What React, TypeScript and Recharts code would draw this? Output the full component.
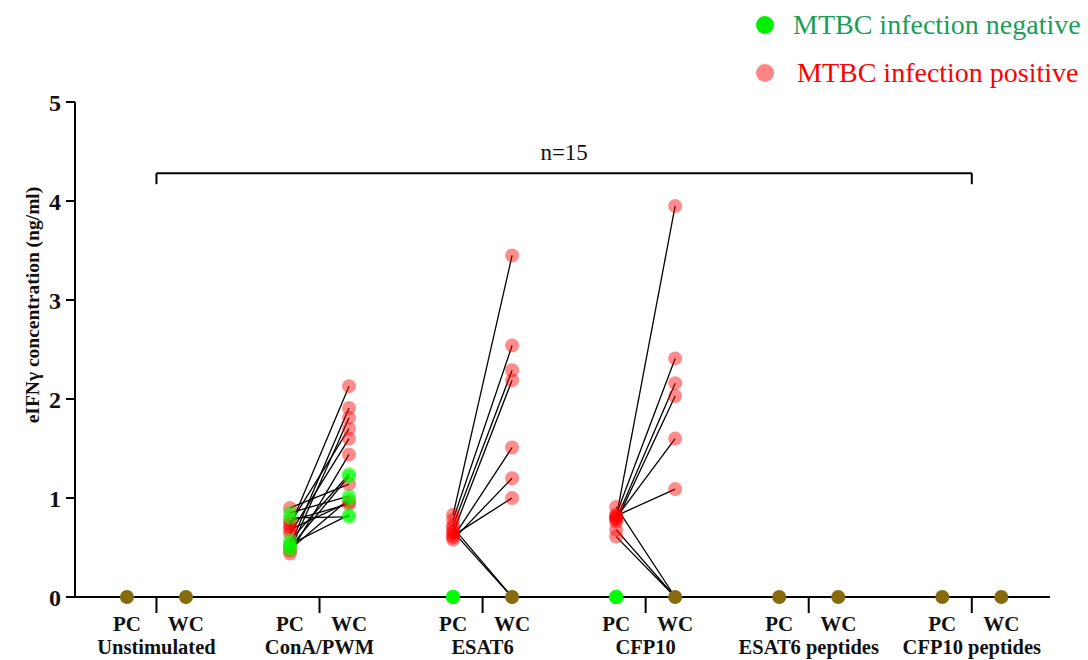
import React from 'react';
import { ComposedChart, Line, Scatter, XAxis, YAxis, ReferenceLine } from 'recharts';

// ---------- categories & labels ----------
const groups = ['Unstimulated', 'ConA/PWM', 'ESAT6', 'CFP10', 'ESAT6 peptides', 'CFP10 peptides'];
const conditions = ['PC', 'WC'];
const yTicks = [0, 1, 2, 3, 4, 5];
const yLabel = 'eIFNγ concentration (ng/ml)';
const sampleLabel = 'n=15';
const bracketLevel = 4.28;
const legendItems = [
  { label: 'MTBC infection negative', dot: '#00ee00', text: '#1a9e55' },
  { label: 'MTBC infection positive', dot: '#ff8585', text: '#ff0000' },
];

// ---------- values (ng/ml), positive animals (n=9) ----------
const unstimPositivePC = [0, 0, 0, 0, 0, 0, 0, 0, 0];
const unstimPositiveWC = [0, 0, 0, 0, 0, 0, 0, 0, 0];
const conaPositivePC = [0.71, 0.52, 0.47, 0.74, 0.64, 0.44, 0.9, 0.77, 0.68];
const conaPositiveWC = [2.13, 1.91, 1.81, 1.7, 1.6, 1.44, 1.14, 0.94, 0.96];
const esat6PositivePC = [0.83, 0.78, 0.72, 0.65, 0.6, 0.58, 0.62, 0.7, 0.66];
const esat6PositiveWC = [3.45, 2.54, 2.29, 2.19, 1.51, 1.2, 1.0, 0, 0];
const cfp10PositivePC = [0.8, 0.83, 0.78, 0.76, 0.8, 0.82, 0.68, 0.61, 0.91];
const cfp10PositiveWC = [3.95, 2.41, 2.16, 2.03, 1.6, 1.09, 0, 0, 0];
const esat6PepPositivePC = [0, 0, 0, 0, 0, 0, 0, 0, 0];
const esat6PepPositiveWC = [0, 0, 0, 0, 0, 0, 0, 0, 0];
const cfp10PepPositivePC = [0, 0, 0, 0, 0, 0, 0, 0, 0];
const cfp10PepPositiveWC = [0, 0, 0, 0, 0, 0, 0, 0, 0];

// ---------- values (ng/ml), negative animals (n=6) ----------
const unstimNegativePC = [0, 0, 0, 0, 0, 0];
const unstimNegativeWC = [0, 0, 0, 0, 0, 0];
const conaNegativePC = [0.57, 0.5, 0.85, 0.48, 0.8, 0.53];
const conaNegativeWC = [1.24, 1.22, 1.02, 0.99, 0.81, 0.83];
const esat6NegativePC = [0, 0, 0, 0, 0, 0];
const esat6NegativeWC = [0, 0, 0, 0, 0, 0];
const cfp10NegativePC = [0, 0, 0, 0, 0, 0];
const cfp10NegativeWC = [0, 0, 0, 0, 0, 0];
const esat6PepNegativePC = [0, 0, 0, 0, 0, 0];
const esat6PepNegativeWC = [0, 0, 0, 0, 0, 0];
const cfp10PepNegativePC = [0, 0, 0, 0, 0, 0];
const cfp10PepNegativeWC = [0, 0, 0, 0, 0, 0];

const positive = [
  [unstimPositivePC, unstimPositiveWC],
  [conaPositivePC, conaPositiveWC],
  [esat6PositivePC, esat6PositiveWC],
  [cfp10PositivePC, cfp10PositiveWC],
  [esat6PepPositivePC, esat6PepPositiveWC],
  [cfp10PepPositivePC, cfp10PepPositiveWC],
];
const negative = [
  [unstimNegativePC, unstimNegativeWC],
  [conaNegativePC, conaNegativeWC],
  [esat6NegativePC, esat6NegativeWC],
  [cfp10NegativePC, cfp10NegativeWC],
  [esat6PepNegativePC, esat6PepNegativeWC],
  [cfp10PepNegativePC, cfp10PepNegativeWC],
];

// ---------- layout on the numeric x axis ----------
const GROUP_STEP = 2.763;
const posX = (g: number, c: number) => g * GROUP_STEP + c;
const sepX = (g: number) => g * GROUP_STEP + 0.5;
const separators = groups.map((_, g) => sepX(g));
const X_DOMAIN: [number, number] = [-0.88, 15.64];

// ---------- derived point / line data ----------
type P = { x: number; y: number };
const positivePts: P[] = [];
const negativePts: P[] = [];
const zeroPts: P[] = [];
const pairs: P[][] = [];

groups.forEach((_, g) => {
  conditions.forEach((_, c) => {
    const pv = positive[g][c];
    const nv = negative[g][c];
    const sharedZero = pv.some((v) => v === 0) && nv.some((v) => v === 0);
    pv.forEach((v) => {
      if (v === 0 && sharedZero) return;
      positivePts.push({ x: posX(g, c), y: v });
    });
    nv.forEach((v) => {
      if (v === 0 && sharedZero) return;
      negativePts.push({ x: posX(g, c), y: v });
    });
    if (sharedZero) zeroPts.push({ x: posX(g, c), y: 0 });
  });
  [positive[g], negative[g]].forEach((set) => {
    set[0].forEach((pc, i) => {
      const wc = set[1][i];
      if (pc === 0 && wc === 0) return;
      pairs.push([
        { x: posX(g, 0), y: pc },
        { x: posX(g, 1), y: wc },
      ]);
    });
  });
});

const FONT = '"Liberation Serif", "Times New Roman", serif';

const dotShape = (fill: string, opacity: number) => (props: any) => (
  <circle cx={props.cx} cy={props.cy} r={7} fill={fill} fillOpacity={opacity} />
);

const XTick = (props: any) => {
  const { x, y, payload } = props;
  const g = Math.round((payload.value - 0.5) / GROUP_STEP);
  const half = 29.5;
  const common = { fontWeight: 700, fill: '#111', textAnchor: 'middle' as const, style: { fontFamily: FONT } };
  return (
    <g>
      <text x={x - half} y={y + 16} fontSize={21} {...common}>{conditions[0]}</text>
      <text x={x + half} y={y + 16} fontSize={21} {...common}>{conditions[1]}</text>
      <text x={x} y={y + 39} fontSize={20.5} {...common}>{groups[g]}</text>
    </g>
  );
};

export default function App() {
  return (
    <div style={{ position: 'absolute', left: 0, top: 0, width: 1088, height: 660, background: '#fff' }}>
      <ComposedChart width={1088} height={660} margin={{ top: 102, right: 38, bottom: 0, left: 0 }}>
        <XAxis
          type="number"
          dataKey="x"
          domain={X_DOMAIN}
          ticks={separators}
          interval={0}
          allowDataOverflow
          height={63}
          tickSize={16}
          tickMargin={2}
          axisLine={{ stroke: '#000', strokeWidth: 2 }}
          tickLine={{ stroke: '#000', strokeWidth: 2 }}
          tick={<XTick />}
        />
        <YAxis
          type="number"
          dataKey="y"
          domain={[0, 5]}
          ticks={yTicks}
          interval={0}
          width={75}
          tickSize={9}
          tickMargin={5}
          axisLine={{ stroke: '#000', strokeWidth: 2 }}
          tickLine={{ stroke: '#000', strokeWidth: 2 }}
          tick={{ fontFamily: FONT, fontWeight: 700, fontSize: 24, fill: '#111' }}
          label={{
            content: () => (
              <text
                transform="translate(32,305) rotate(-90)"
                textAnchor="middle"
                dominantBaseline="central"
                fontFamily={FONT}
                fontWeight={700}
                fontSize={19.5}
                fill="#111"
              >
                {yLabel}
              </text>
            ),
          }}
        />
        <ReferenceLine
          segment={[{ x: separators[0], y: bracketLevel }, { x: separators[separators.length - 1], y: bracketLevel }]}
          stroke="#000"
          strokeWidth={2}
          ifOverflow="visible"
          label={{ value: sampleLabel, position: 'top', offset: 13, fontFamily: FONT, fontSize: 23, fill: '#111' }}
        />
        <ReferenceLine
          segment={[{ x: separators[0], y: bracketLevel }, { x: separators[0], y: bracketLevel - 0.11 }]}
          stroke="#000"
          strokeWidth={2}
          ifOverflow="visible"
        />
        <ReferenceLine
          segment={[
            { x: separators[separators.length - 1], y: bracketLevel },
            { x: separators[separators.length - 1], y: bracketLevel - 0.11 },
          ]}
          stroke="#000"
          strokeWidth={2}
          ifOverflow="visible"
        />
        <Scatter data={positivePts} dataKey="y" shape={dotShape('#ff0000', 0.45)} isAnimationActive={false} />
        <Scatter data={negativePts} dataKey="y" shape={dotShape('#00ff00', 0.55)} isAnimationActive={false} />
        <Scatter data={zeroPts} dataKey="y" shape={dotShape('#866a0c', 1)} isAnimationActive={false} />
        {pairs.map((d, i) => (
          <Line
            key={i}
            data={d}
            dataKey="y"
            type="linear"
            stroke="#000"
            strokeWidth={1.3}
            dot={false}
            activeDot={false}
            isAnimationActive={false}
          />
        ))}
      </ComposedChart>
      {legendItems.map((it, i) => (
        <div
          key={it.label}
          style={{
            position: 'absolute',
            left: 756,
            top: 10 + i * 48,
            height: 30,
            display: 'flex',
            alignItems: 'center',
            fontFamily: FONT,
            fontSize: 28,
            color: it.text,
            whiteSpace: 'nowrap',
          }}
        >
          <span
            style={{
              display: 'inline-block',
              width: 18,
              height: 18,
              borderRadius: 9,
              background: it.dot,
              marginRight: i === 0 ? 19 : 23,
            }}
          />
          {it.label}
        </div>
      ))}
    </div>
  );
}
